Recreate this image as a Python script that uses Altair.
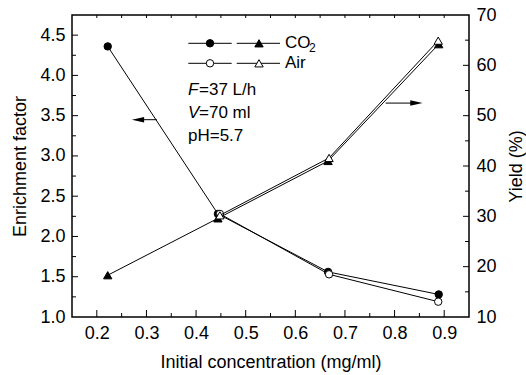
import altair as alt
import pandas as pd

# ---- data ----
x_co2 = [0.222, 0.444, 0.666, 0.889]
x_air = [0.448, 0.668, 0.888]
enrich_co2 = [4.36, 2.28, 1.56, 1.28]
enrich_air = [2.28, 1.53, 1.19]
yield_co2 = [18.3, 29.6, 41.0, 64.2]
yield_air = [30.2, 41.6, 64.9]

x_major = [0.2, 0.3, 0.4, 0.5, 0.6, 0.7, 0.8, 0.9]
x_minor = [0.25, 0.35, 0.45, 0.55, 0.65, 0.75, 0.85]
yl_major = [1.5, 2.0, 2.5, 3.0, 3.5, 4.0, 4.5]
yl_minor = [1.25, 1.75, 2.25, 2.75, 3.25, 3.75, 4.25]
yl_labels = [1.0, 1.5, 2.0, 2.5, 3.0, 3.5, 4.0, 4.5]
yr_major = [20, 30, 40, 50, 60]
yr_minor = [15, 25, 35, 45, 55, 65]
yr_labels = [10, 20, 30, 40, 50, 60, 70]

# annotation arrows (data coordinates)
arrow_left_x = [0.283, 0.321]
arrow_left_y = [3.45, 3.45]
arrow_right_x = [0.782, 0.844]
arrow_right_y = [52.5, 52.5]

FONT = "Liberation Sans"
FS = 17
AFS = 18
W, H = 397, 302

xs = alt.Scale(domain=[0.15, 0.95], nice=False, zero=False)
ysL = alt.Scale(domain=[1.0, 4.75], nice=False, zero=False)
ysR = alt.Scale(domain=[10, 70], nice=False, zero=False)

common = dict(ticks=False, tickSize=0, domain=False, grid=False, labelPadding=7,
              labelFont=FONT, labelFontSize=AFS, labelColor="black",
              titleFont=FONT, titleFontSize=AFS, titleFontWeight="normal", titleColor="black")

x_axis = alt.Axis(values=x_major, format=".1f", title="Initial concentration (mg/ml)",
                  titleY=50, titleBaseline="alphabetic", **common)
yL_axis = alt.Axis(values=yl_labels, format=".1f", title="Enrichment factor", orient="left",
                   titleX=-47, titleY=H / 2, titleAngle=270, titleAlign="center",
                   titleBaseline="alphabetic", **common)
yR_axis = alt.Axis(values=yr_labels, format="d", title="Yield (%)", orient="right",
                   titleX=52, titleY=H / 2, titleAngle=270, titleAlign="center",
                   titleBaseline="alphabetic", **common)

X = alt.X("x:Q", scale=xs, axis=x_axis)

df_ec = pd.DataFrame({"x": x_co2, "v": enrich_co2})
df_ea = pd.DataFrame({"x": x_air, "v": enrich_air})
df_yc = pd.DataFrame({"x": x_co2, "v": yield_co2})
df_ya = pd.DataFrame({"x": x_air, "v": yield_air})


def series(df, yscale, shape, filled, yaxis=None):
    base = alt.Chart(df)
    line = base.mark_line(color="black", strokeWidth=1).encode(
        x=X, y=alt.Y("v:Q", scale=yscale, axis=yaxis))
    pts = base.mark_point(shape=shape, filled=True, size=55 if shape == "circle" else 70,
                          fill="black" if filled else "white", stroke="black",
                          strokeWidth=1, opacity=1).encode(
        x=X, y=alt.Y("v:Q", scale=yscale, axis=None))
    return line, pts


l1, p1 = series(df_ec, ysL, "circle", True, yaxis=yL_axis)
l2, p2 = series(df_ea, ysL, "circle", False)
l3, p3 = series(df_yc, ysR, "triangle-up", True, yaxis=yR_axis)
l4, p4 = series(df_ya, ysR, "triangle-up", False)


def xticks(vals, y1, y2):
    return alt.Chart(pd.DataFrame({"x": vals})).mark_rule(color="black", strokeWidth=1).encode(
        x=X, y=alt.value(y1), y2=alt.value(y2))


def yticks(vals, scale, x1, x2):
    return alt.Chart(pd.DataFrame({"v": vals})).mark_rule(color="black", strokeWidth=1).encode(
        y=alt.Y("v:Q", scale=scale, axis=None), x=alt.value(x1), x2=alt.value(x2))


ticks = [
    xticks(x_major, H, H - 7), xticks(x_minor, H, H - 4),
    xticks(x_major + x_minor, 0, 3),
    yticks(yl_major, ysL, 0, 6), yticks(yl_minor, ysL, 0, 4),
    yticks(yr_major, ysR, W, W - 6), yticks(yr_minor, ysR, W, W - 4),
]

# arrows
arrow_path = "M1,0L-1,-0.45L-1,0.45Z"
arrow_path_l = "M-1,0L1,-0.45L1,0.45Z"
dfal = pd.DataFrame({"x": arrow_left_x, "v": arrow_left_y})
dfar = pd.DataFrame({"x": arrow_right_x, "v": arrow_right_y})
al_line = alt.Chart(dfal).mark_line(color="black", strokeWidth=1).encode(
    x=X, y=alt.Y("v:Q", scale=ysL, axis=None))
al_head = alt.Chart(dfal.iloc[[0]]).mark_point(shape=arrow_path_l, filled=True, color="black",
                                                size=150, opacity=1).encode(
    x=X, y=alt.Y("v:Q", scale=ysL, axis=None))
ar_line = alt.Chart(dfar).mark_line(color="black", strokeWidth=1).encode(
    x=X, y=alt.Y("v:Q", scale=ysR, axis=None))
ar_head = alt.Chart(dfar.iloc[[1]]).mark_point(shape=arrow_path, filled=True, color="black",
                                                size=150, opacity=1).encode(
    x=X, y=alt.Y("v:Q", scale=ysR, axis=None))

# legend + condition text (pixel positions inside the plot)
leg_y1, leg_y2 = 28.3, 48.3
dummy = pd.DataFrame({"a": [0]})


def seg(x1, x2, y):
    return alt.Chart(dummy).mark_rule(color="black", strokeWidth=1).encode(
        x=alt.value(x1), x2=alt.value(x2), y=alt.value(y))


def sym(x, y, shape, filled):
    return alt.Chart(dummy).mark_point(shape=shape, filled=True,
                                       size=55 if shape == "circle" else 70,
                                       fill="black" if filled else "white", stroke="black",
                                       strokeWidth=1, opacity=1).encode(
        x=alt.value(x), y=alt.value(y))


def txt(s, x, y, size=FS, style="normal", baseline="alphabetic"):
    return alt.Chart(dummy).mark_text(text=s, font=FONT, fontSize=size, fontStyle=style,
                                      align="left", baseline=baseline, color="black").encode(
        x=alt.value(x), y=alt.value(y))


legend = [
    seg(116.3, 159.7, leg_y1), sym(138, leg_y1, "circle", True),
    seg(164.7, 208, leg_y1), sym(187, leg_y1, "triangle-up", True),
    seg(116.3, 159.7, leg_y2), sym(138, leg_y2, "circle", False),
    seg(164.7, 208, leg_y2), sym(187, leg_y2, "triangle-up", False),
    txt("CO", 213, leg_y1, baseline="middle"), txt("2", 237, leg_y1 + 9, size=12),
    txt("Air", 213, leg_y2, baseline="middle"),
    txt("F", 116, 80, style="italic"), txt("=37 L/h", 127, 80),
    txt("V", 116, 103, style="italic"), txt("=70 ml", 127, 103),
    txt("pH=5.7", 116, 126),
]

chart = alt.layer(
    l1, l2, p1, p2, l3, l4, p3, p4, *ticks, al_line, al_head, ar_line, ar_head, *legend
).resolve_scale(y="independent").properties(
    width=W, height=H,
    background="white",
    autosize=alt.AutoSizeParams(type="none"),
    padding={"left": 72, "top": 15, "right": 57, "bottom": 58},
).configure_view(stroke="black", strokeWidth=1.5)

chart.save("out.html", embed_options={"renderer": "svg", "actions": False})
